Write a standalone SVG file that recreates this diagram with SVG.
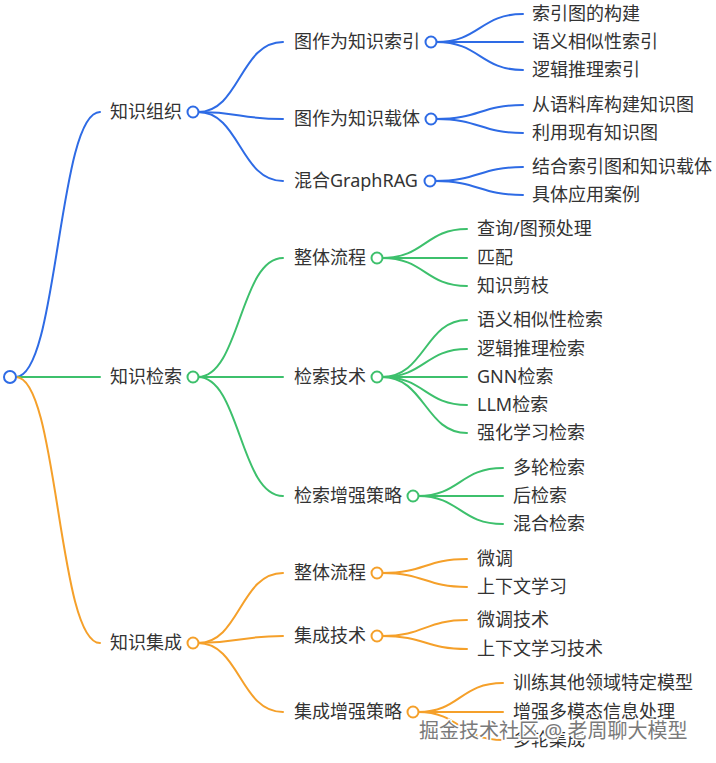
<svg xmlns="http://www.w3.org/2000/svg" width="716" height="763" viewBox="0 0 716 763">
<style>
text{font-family:"Noto Sans","Noto Sans CJK SC",sans-serif;font-size:18px;fill:#333;}
.c{fill:none;stroke-width:2;stroke-linecap:round;}
.b{stroke:#2E6BE5;}
.g{stroke:#3DC06C;}
.o{stroke:#F5A02A;}
circle{fill:#fff;stroke-width:2;}
.wm{font-size:20px;fill:#7a7a7a;stroke:#fff;stroke-width:3;paint-order:stroke;}
</style>
<rect width="716" height="763" fill="#fff"/>
<g id="connectors">
<path class="c b" d="M16,377 C58,377 58,112 100,112"/>
<path class="c g" d="M16,377 L100,377"/>
<path class="c o" d="M16,377 C58,377 58,643 100,643"/>
<path class="c b" d="M198,112 C240,112 240,42 283,42"/>
<path class="c b" d="M198,112 C240,112 240,119 283,119"/>
<path class="c b" d="M198,112 C240,112 240,181 283,181"/>
<path class="c g" d="M198,377 C240,377 240,258 283,258"/>
<path class="c g" d="M198,377 L283,377"/>
<path class="c g" d="M198,377 C240,377 240,496 283,496"/>
<path class="c o" d="M198,643 C240,643 240,573 283,573"/>
<path class="c o" d="M198,643 C240,643 240,636 283,636"/>
<path class="c o" d="M198,643 C240,643 240,712 283,712"/>
<path class="c b" d="M436,42 C480,42 480,14 523,14"/>
<path class="c b" d="M436,42 L523,42"/>
<path class="c b" d="M436,42 C480,42 480,70 523,70"/>
<path class="c b" d="M436,119 C480,119 480,105 523,105"/>
<path class="c b" d="M436,119 C480,119 480,133 523,133"/>
<path class="c b" d="M435,181 C479,181 479,167 523,167"/>
<path class="c b" d="M435,181 C479,181 479,195 523,195"/>
<path class="c g" d="M382,258 C425,258 425,229 467,229"/>
<path class="c g" d="M382,258 L467,258"/>
<path class="c g" d="M382,258 C425,258 425,286 467,286"/>
<path class="c g" d="M382,377 C425,377 425,320 467,320"/>
<path class="c g" d="M382,377 C425,377 425,349 467,349"/>
<path class="c g" d="M382,377 L467,377"/>
<path class="c g" d="M382,377 C425,377 425,405 467,405"/>
<path class="c g" d="M382,377 C425,377 425,433 467,433"/>
<path class="c g" d="M418,496 C460,496 460,468 503,468"/>
<path class="c g" d="M418,496 L503,496"/>
<path class="c g" d="M418,496 C460,496 460,524 503,524"/>
<path class="c o" d="M382,573 C425,573 425,559 467,559"/>
<path class="c o" d="M382,573 C425,573 425,587 467,587"/>
<path class="c o" d="M382,636 C425,636 425,620 467,620"/>
<path class="c o" d="M382,636 C425,636 425,649 467,649"/>
<path class="c o" d="M418,712 C460,712 460,683 503,683"/>
<path class="c o" d="M418,712 L503,712"/>
<path class="c o" d="M418,712 C460,712 460,740 503,740"/>
</g>
<g id="root"><circle cx="10" cy="377" r="6" stroke="#2E6BE5"/></g>
<g id="n-org"><text x="110" y="118">知识组织</text><circle cx="193" cy="112" r="5.5" stroke="#2E6BE5"/></g>
<g id="n-ret"><text x="110" y="383">知识检索</text><circle cx="193" cy="377" r="5.5" stroke="#3DC06C"/></g>
<g id="n-int"><text x="110" y="649">知识集成</text><circle cx="193" cy="643" r="5.5" stroke="#F5A02A"/></g>
<g id="n-org-1"><text x="294" y="48">图作为知识索引</text><circle cx="431" cy="42" r="5.5" stroke="#2E6BE5"/></g>
<g id="n-org-2"><text x="294" y="125">图作为知识载体</text><circle cx="431" cy="119" r="5.5" stroke="#2E6BE5"/></g>
<g id="n-org-3"><text x="294" y="187">混合GraphRAG</text><circle cx="430" cy="181" r="5.5" stroke="#2E6BE5"/></g>
<g id="n-org-1-1"><text x="532" y="20">索引图的构建</text></g>
<g id="n-org-1-2"><text x="532" y="48">语义相似性索引</text></g>
<g id="n-org-1-3"><text x="532" y="76">逻辑推理索引</text></g>
<g id="n-org-2-1"><text x="532" y="111">从语料库构建知识图</text></g>
<g id="n-org-2-2"><text x="532" y="139">利用现有知识图</text></g>
<g id="n-org-3-1"><text x="532" y="173">结合索引图和知识载体</text></g>
<g id="n-org-3-2"><text x="532" y="201">具体应用案例</text></g>
<g id="n-ret-1"><text x="294" y="264">整体流程</text><circle cx="377" cy="258" r="5.5" stroke="#3DC06C"/></g>
<g id="n-ret-2"><text x="294" y="383">检索技术</text><circle cx="377" cy="377" r="5.5" stroke="#3DC06C"/></g>
<g id="n-ret-3"><text x="294" y="502">检索增强策略</text><circle cx="413" cy="496" r="5.5" stroke="#3DC06C"/></g>
<g id="n-ret-1-1"><text x="477" y="235">查询/图预处理</text></g>
<g id="n-ret-1-2"><text x="477" y="264">匹配</text></g>
<g id="n-ret-1-3"><text x="477" y="292">知识剪枝</text></g>
<g id="n-ret-2-1"><text x="477" y="326">语义相似性检索</text></g>
<g id="n-ret-2-2"><text x="477" y="355">逻辑推理检索</text></g>
<g id="n-ret-2-3"><text x="477" y="383">GNN检索</text></g>
<g id="n-ret-2-4"><text x="477" y="411">LLM检索</text></g>
<g id="n-ret-2-5"><text x="477" y="439">强化学习检索</text></g>
<g id="n-ret-3-1"><text x="513" y="474">多轮检索</text></g>
<g id="n-ret-3-2"><text x="513" y="502">后检索</text></g>
<g id="n-ret-3-3"><text x="513" y="530">混合检索</text></g>
<g id="n-int-1"><text x="294" y="579">整体流程</text><circle cx="377" cy="573" r="5.5" stroke="#F5A02A"/></g>
<g id="n-int-2"><text x="294" y="642">集成技术</text><circle cx="377" cy="636" r="5.5" stroke="#F5A02A"/></g>
<g id="n-int-3"><text x="294" y="718">集成增强策略</text><circle cx="413" cy="712" r="5.5" stroke="#F5A02A"/></g>
<g id="n-int-1-1"><text x="477" y="565">微调</text></g>
<g id="n-int-1-2"><text x="477" y="593">上下文学习</text></g>
<g id="n-int-2-1"><text x="477" y="626">微调技术</text></g>
<g id="n-int-2-2"><text x="477" y="655">上下文学习技术</text></g>
<g id="n-int-3-1"><text x="513" y="689">训练其他领域特定模型</text></g>
<g id="n-int-3-2"><text x="513" y="718">增强多模态信息处理</text></g>
<g id="n-int-3-3"><text x="513" y="746">多轮集成</text></g>
<text class="wm" x="419" y="738">掘金技术社区 @ 老周聊大模型</text>
</svg>
